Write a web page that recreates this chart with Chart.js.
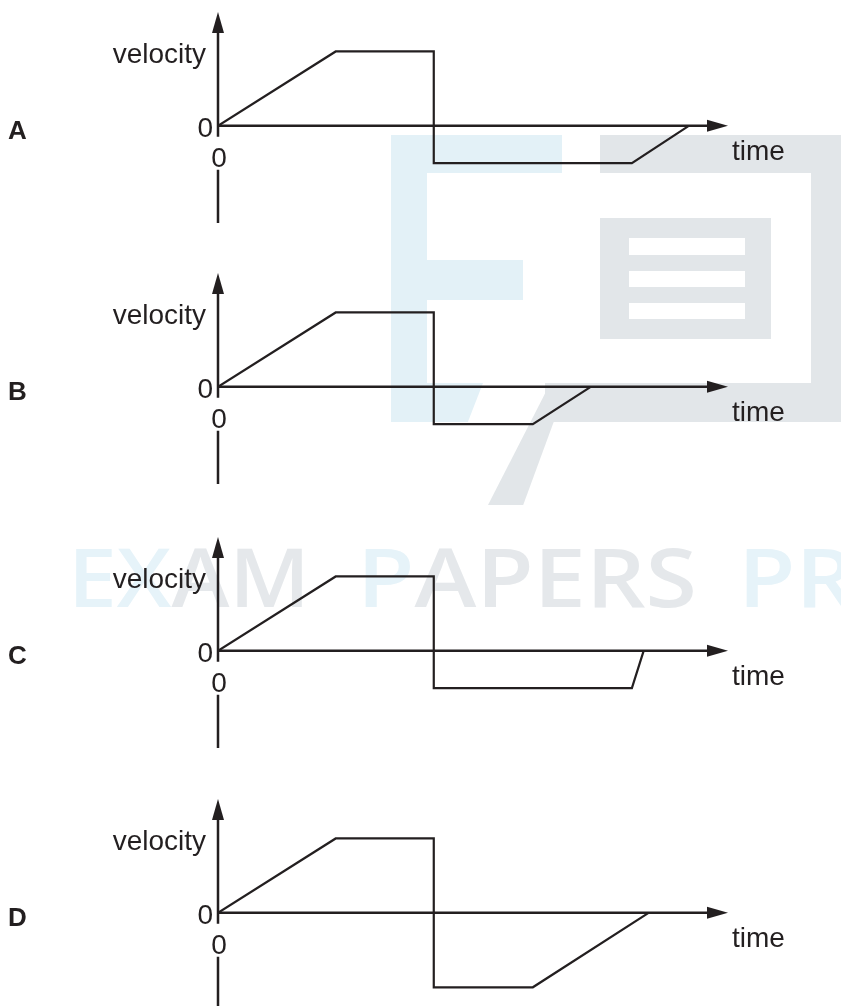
<!DOCTYPE html>
<html>
<head>
<meta charset="utf-8">
<title>velocity-time graphs</title>
<script src="https://cdn.jsdelivr.net/npm/chart.js@4"></script>
<style>
  html, body { margin: 0; padding: 0; background: #fff; }
  body { width: 841px; height: 1006px; overflow: hidden; position: relative; }
  .wm { position: absolute; }
  .blue { background: #e3f1f7; }
  .grey { background: #e2e6e9; }
  .wmtext { position: absolute; top: 534px; font-family: "Open Sans", Lato, sans-serif; font-weight: 600; font-size: 82px; line-height: 1; white-space: nowrap; transform-origin: 0 0; }
  .tb { color: #e6f3f9; }
  .tg { color: #e5e8eb; }
  canvas.panel { position: absolute; left: 0; }
</style>
</head>
<body>
<!-- faint watermark behind the graphs -->
<div class="wm blue" style="left:391px;top:135px;width:36px;height:287px"></div>
<div class="wm blue" style="left:391px;top:135px;width:171px;height:38px"></div>
<div class="wm blue" style="left:427px;top:260px;width:96px;height:40px"></div>
<div class="wm blue" style="left:427px;top:383px;width:56px;height:39px;clip-path:polygon(0 0,100% 0,73% 100%,0 100%)"></div>
<div class="wm grey" style="left:600px;top:135px;width:241px;height:38px"></div>
<div class="wm grey" style="left:811px;top:135px;width:30px;height:287px"></div>
<div class="wm grey" style="left:545px;top:383px;width:296px;height:39px"></div>
<div class="wm grey" style="left:488px;top:383px;width:80px;height:122px;clip-path:polygon(78% 0,100% 0,44% 100%,0 100%)"></div>
<div class="wm grey" style="left:600px;top:218px;width:171px;height:121px"></div>
<div class="wm" style="left:629px;top:238px;width:116px;height:17px;background:#fff"></div>
<div class="wm" style="left:629px;top:271px;width:116px;height:16px;background:#fff"></div>
<div class="wm" style="left:629px;top:303px;width:116px;height:16px;background:#fff"></div>
<div class="wmtext" id="wm1" style="left:68px"><span class="tb">EX</span><span class="tg">AM</span></div>
<div class="wmtext" id="wm2" style="left:357px"><span class="tb">P</span><span class="tg">APERS</span></div>
<div class="wmtext" id="wm3" style="left:738px"><span class="tb">PR</span></div>

<canvas class="panel" id="chartA" width="841" height="250" style="top:0px"></canvas>
<canvas class="panel" id="chartB" width="841" height="250" style="top:261px"></canvas>
<canvas class="panel" id="chartC" width="841" height="250" style="top:525px"></canvas>
<canvas class="panel" id="chartD" width="841" height="250" style="top:787px"></canvas>

<script>
  // values (time in arbitrary units, velocity in arbitrary units)
  var panelNames = ['A', 'B', 'C', 'D'];

  var timeA = [0, 12, 22, 22, 42.2, 48];
  var velA = [0, 2, 2, -1, -1, 0];

  var timeB = [0, 12, 22, 22, 32.1, 38];
  var velB = [0, 2, 2, -1, -1, 0];

  var timeC = [0, 12, 22, 22, 42.2, 43.4];
  var velC = [0, 2, 2, -1, -1, 0];

  var timeD = [0, 12, 22, 22, 32.1, 43.9];
  var velD = [0, 2, 2, -2, -2, 0];

  var xTickLabels = ['0'];
  var yTickLabels = ['0'];
  var xTitle = 'time';
  var yTitle = 'velocity';

  var ink = '#231f20';
  var labelFont = '28px "Liberation Sans", Arial, sans-serif';

  function toPoints(times, vels) {
    return times.map(function (t, i) {
      return { x: t, y: vels[i] };
    });
  }

  var axesPlugin = {
    id: 'vtAxes',
    beforeDatasetsDraw: function (chart) {
      var ctx = chart.ctx;
      var xs = chart.scales.x;
      var ys = chart.scales.y;
      var x0 = xs.getPixelForValue(0);
      var y0 = ys.getPixelForValue(0);
      var xEnd = xs.getPixelForValue(xs.max);
      var yTop = ys.getPixelForValue(ys.max);
      var yBot = ys.getPixelForValue(ys.min);

      ctx.save();
      ctx.strokeStyle = ink;
      ctx.fillStyle = ink;
      ctx.lineWidth = 2.5;
      ctx.lineCap = 'butt';
      ctx.beginPath();
      ctx.moveTo(x0 - 1, y0);
      ctx.lineTo(xEnd - 18, y0);
      ctx.moveTo(x0, y0 + 11);
      ctx.lineTo(x0, yTop + 18);
      // the axis is broken where the time "0" sits
      ctx.moveTo(x0, y0 + 44);
      ctx.lineTo(x0, yBot);
      ctx.stroke();

      // arrow heads
      ctx.beginPath();
      ctx.moveTo(xEnd, y0);
      ctx.lineTo(xEnd - 21, y0 - 6);
      ctx.lineTo(xEnd - 21, y0 + 6);
      ctx.closePath();
      ctx.fill();
      ctx.beginPath();
      ctx.moveTo(x0, yTop);
      ctx.lineTo(x0 - 6, yTop + 21);
      ctx.lineTo(x0 + 6, yTop + 21);
      ctx.closePath();
      ctx.fill();
      ctx.restore();
    },
    afterDatasetsDraw: function (chart, args, opts) {
      var ctx = chart.ctx;
      var x0 = chart.scales.x.getPixelForValue(0);
      var y0 = chart.scales.y.getPixelForValue(0);
      var xEnd = chart.scales.x.getPixelForValue(chart.scales.x.max);

      ctx.save();
      ctx.fillStyle = ink;
      ctx.font = labelFont;
      ctx.textBaseline = 'alphabetic';

      ctx.textAlign = 'right';
      ctx.fillText(yTitle, x0 - 12, y0 - 63);
      ctx.fillText(yTickLabels[0], x0 - 5, y0 + 11);

      ctx.textAlign = 'center';
      ctx.fillText(xTickLabels[0], x0 + 1, y0 + 41);

      ctx.textAlign = 'left';
      ctx.fillText(xTitle, xEnd + 4, y0 + 34);

      ctx.font = 'bold 26px "Liberation Sans", Arial, sans-serif';
      ctx.fillText(opts.name, 8, y0 + 13);
      ctx.restore();
    }
  };

  function drawPanel(name, times, vels) {
    var canvas = document.getElementById('chart' + name);
    return new Chart(canvas, {
      type: 'line',
      data: {
        datasets: [{
          data: toPoints(times, vels),
          borderColor: ink,
          borderWidth: 2.2,
          pointRadius: 0,
          tension: 0,
          fill: false,
          borderJoinStyle: 'miter'
        }]
      },
      options: {
        responsive: false,
        animation: false,
        events: [],
        layout: { padding: { left: 218, right: 113, top: 12, bottom: 27 } },
        plugins: {
          legend: { display: false },
          tooltip: { enabled: false },
          vtAxes: { name: name }
        },
        scales: {
          x: { type: 'linear', min: 0, max: 52, display: false },
          y: { type: 'linear', min: -2.61, max: 3.06, display: false }
        }
      },
      plugins: [axesPlugin]
    });
  }

  drawPanel(panelNames[0], timeA, velA);
  drawPanel(panelNames[1], timeB, velB);
  drawPanel(panelNames[2], timeC, velC);
  drawPanel(panelNames[3], timeD, velD);

  // stretch the watermark words to the widths seen in the picture
  function fitWidth(id, target) {
    var el = document.getElementById(id);
    var w = el.getBoundingClientRect().width;
    el.style.transform = 'scaleX(' + (target / w) + ')';
    return target / w;
  }
  fitWidth('wm1', 242);
  var s = fitWidth('wm2', 340);
  document.getElementById('wm3').style.transform = 'scaleX(' + s + ')';
</script>
</body>
</html>
